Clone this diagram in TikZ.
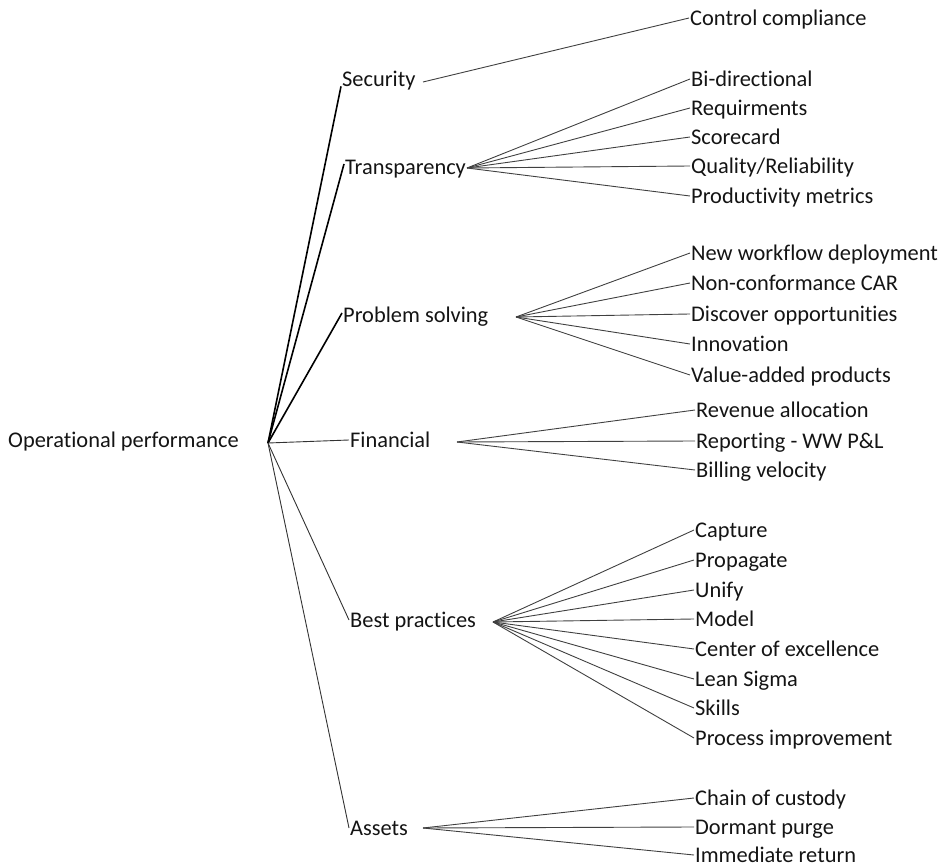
\documentclass[tikz,border=0pt]{standalone}
\usepackage{fontspec}
\setmainfont{Carlito}[RawFeature={-liga;-clig;-dlig}]
\usetikzlibrary{positioning}

\begin{document}
\begin{tikzpicture}[x=1pt, y=-1pt]
  \tikzstyle{txt} = [anchor=west, inner xsep=1pt, inner ysep=0pt, text height=14.4pt, text depth=0pt,
                     text=black!92, font=\fontsize{22.4}{26}\selectfont]
  \tikzstyle{mainline} = [draw, line width=1.6pt, black]
  \tikzstyle{subline} = [draw, line width=0.9pt, black!80]
  \tikzstyle{leafline} = [draw, line width=0.9pt, black!75]
  \useasboundingbox (0,0) rectangle (943,866);

  % root
  \node [txt] (root) at (7,440) {Operational performance};
  \coordinate (hub) at (268,443);

  % first level
  \node [txt] (sec) at (341,79) {Security};
  \node [txt] (tra) at (344,167) {Transparency};
  \node [txt] (prob) at (342,315) {Problem solving};
  \node [txt] (fin) at (349,440) {Financial};
  \node [txt] (best) at (349,620) {Best practices};
  \node [txt] (ass) at (349,828) {Assets};

  \coordinate (secfan) at (423,82);
  \coordinate (trafan) at (467,168);
  \coordinate (probfan) at (516,317);
  \coordinate (finfan) at (457,442);
  \coordinate (bestfan) at (493,622);
  \coordinate (assfan) at (423,828);

  % leaves
  \node [txt] (ctrl) at (689,18) {Control compliance};

  \node [txt] (bidir) at (690,79) {Bi-directional};
  \node [txt] (req) at (690,108) {Requirments};
  \node [txt] (score) at (690,137) {Scorecard};
  \node [txt] (qual) at (690,166) {Quality/Reliability};
  \node [txt] (prod) at (690,196) {Productivity metrics};

  \node [txt] (flow) at (690,253) {New workflow deployment};
  \node [txt] (ncar) at (690,283) {Non-conformance CAR};
  \node [txt] (disc) at (690,314) {Discover opportunities};
  \node [txt] (inno) at (690,344) {Innovation};
  \node [txt] (value) at (690,375) {Value-added products};

  \node [txt] (rev) at (695,410) {Revenue allocation};
  \node [txt] (rep) at (695,441) {Reporting - WW P\&L};
  \node [txt] (bill) at (695,470) {Billing velocity};

  \node [txt] (capt) at (694,530) {Capture};
  \node [txt] (prop) at (694,560) {Propagate};
  \node [txt] (unify) at (694,590) {Unify};
  \node [txt] (model) at (694,619) {Model};
  \node [txt] (center) at (694,649) {Center of excellence};
  \node [txt] (lean) at (694,679) {Lean Sigma};
  \node [txt] (skill) at (694,708) {Skills};
  \node [txt] (procimp) at (694,738) {Process improvement};

  \node [txt] (chain) at (694,798) {Chain of custody};
  \node [txt] (dorm) at (694,827) {Dormant purge};
  \node [txt] (immed) at (694,855) {Immediate return};

  % connectors
  \draw [mainline] (hub) -- (sec.south west);
  \draw [mainline] (hub) -- ([yshift=3pt]tra.west);
  \draw [mainline] (hub) -- ([yshift=2pt]prob.west);
  \draw [subline] (hub) -- (fin.west);
  \draw [subline] (hub) -- (best.west);
  \draw [subline] (hub) -- (ass.west);

  \draw [leafline] (secfan) -- (ctrl.west);
  \foreach \leaf in {bidir,req,score,qual,prod}
    \draw [leafline] (trafan) -- (\leaf.west);
  \foreach \leaf in {flow,ncar,disc,inno,value}
    \draw [leafline] (probfan) -- (\leaf.west);
  \foreach \leaf in {rev,rep,bill}
    \draw [leafline] (finfan) -- (\leaf.west);
  \foreach \leaf in {capt,prop,unify,model,center,lean,skill,procimp}
    \draw [leafline] (bestfan) -- (\leaf.west);
  \foreach \leaf in {chain,dorm,immed}
    \draw [leafline] (assfan) -- (\leaf.west);
\end{tikzpicture}
\end{document}
